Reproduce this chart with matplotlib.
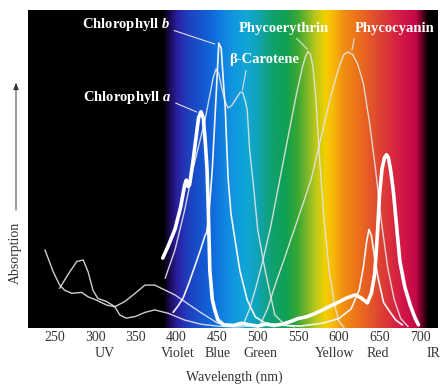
import numpy as np
import matplotlib.pyplot as plt
from matplotlib.colors import LinearSegmentedColormap

plt.rcParams['font.family'] = 'Liberation Serif'
plt.rcParams['mathtext.fontset'] = 'custom'
plt.rcParams['mathtext.rm'] = 'Liberation Serif'
plt.rcParams['mathtext.it'] = 'Liberation Serif:italic:bold'

# ── Data (wavelength in nm, relative absorption) ───────────────────────────────
chl_a_nm  = [383, 390, 398, 405, 410, 412, 414, 416, 420, 424, 427, 430, 433, 435.5, 437.5,
             439, 441, 444, 447, 451, 458, 470, 480, 490, 500, 510, 520, 530, 540, 550,
             560, 570, 580, 590, 600, 610, 620, 627, 635, 640, 644, 647, 650, 653, 656,
             658.5, 661, 664, 667, 671, 675, 681, 688, 694, 698]
chl_a_abs = [0.22, 0.26, 0.31, 0.38, 0.45, 0.465, 0.445, 0.45, 0.52, 0.60, 0.66, 0.68, 0.66, 0.58, 0.50,
             0.38, 0.18, 0.09, 0.057, 0.025, 0.01, 0.008, 0.015, 0.01, 0.006, 0.012, 0.008, 0.012, 0.02, 0.03,
             0.035, 0.045, 0.057, 0.07, 0.082, 0.095, 0.104, 0.095, 0.079, 0.11, 0.17, 0.28, 0.42, 0.50, 0.535,
             0.545, 0.535, 0.49, 0.43, 0.32, 0.21, 0.13, 0.07, 0.03, 0.01]

chl_b_nm  = [396, 402, 408, 415, 423, 430, 435, 437, 440, 444, 448.5, 452, 455, 457, 460,
             462, 463.5, 467, 470, 478, 487, 497, 509, 527, 552, 580, 600, 615, 625, 630,
             634, 637, 640, 644, 648, 655, 663, 670, 678]
chl_b_abs = [0.05, 0.07, 0.094, 0.14, 0.198, 0.25, 0.29, 0.30, 0.36, 0.50, 0.72, 0.896, 0.88, 0.80, 0.69,
             0.56, 0.47, 0.36, 0.31, 0.18, 0.088, 0.035, 0.016, 0.009, 0.006, 0.015, 0.03, 0.06, 0.12, 0.19,
             0.27, 0.31, 0.29, 0.22, 0.16, 0.08, 0.05, 0.025, 0.01]

bcar_nm  = [386, 398, 410, 420, 429, 435, 441, 445, 448.5, 452, 456, 460, 463.5, 468, 473,
            478, 481, 484, 487, 490, 494, 500, 509, 521, 534, 545]
bcar_abs = [0.157, 0.245, 0.371, 0.497, 0.591, 0.654, 0.733, 0.786, 0.814, 0.80, 0.75, 0.71, 0.692, 0.70, 0.72,
            0.74, 0.742, 0.72, 0.686, 0.56, 0.465, 0.308, 0.182, 0.041, 0.009, 0.004]

pe_nm  = [238, 248, 256, 262, 271, 283, 291, 301, 314, 324, 336, 349, 361, 373, 386,
          398, 410, 429, 450, 470, 482, 490, 498, 507, 516, 527, 538, 548, 555, 559,
          562, 565, 568, 571, 574, 577, 582, 588, 594, 600, 606]
pe_abs = [0.245, 0.177, 0.135, 0.119, 0.109, 0.112, 0.098, 0.088, 0.072, 0.067, 0.083, 0.109, 0.135, 0.135, 0.119,
          0.104, 0.083, 0.050, 0.016, 0.005, 0.01, 0.06, 0.13, 0.22, 0.32, 0.465, 0.61, 0.74, 0.82, 0.855,
          0.87, 0.86, 0.82, 0.74, 0.62, 0.50, 0.33, 0.18, 0.08, 0.02, 0.003]

pc_nm  = [256, 266, 277, 285, 291, 297, 303, 314, 324, 330, 338, 349, 361, 373, 390,
          410, 430, 450, 475, 503, 512, 522, 533, 545, 557, 566, 578, 590, 600, 606,
          611, 617, 623, 630, 638, 645, 652, 660, 668, 676, 685]
pc_abs = [0.125, 0.167, 0.209, 0.214, 0.177, 0.119, 0.093, 0.083, 0.067, 0.041, 0.031, 0.036, 0.049, 0.057, 0.046,
          0.025, 0.012, 0.006, 0.003, 0.01, 0.06, 0.14, 0.22, 0.31, 0.40, 0.47, 0.60, 0.73, 0.82, 0.86,
          0.868, 0.86, 0.83, 0.77, 0.64, 0.50, 0.34, 0.19, 0.09, 0.03, 0.005]

tick_nm     = [250, 300, 350, 400, 450, 500, 550, 600, 650, 700]
band_names  = ['UV', 'Violet', 'Blue', 'Green', 'Yellow', 'Red', 'IR']
band_nm     = [312, 402, 451, 503, 595, 648, 716]

# pigment labels: text, text position, pointer position
labels = [
    ('Chlorophyll $b$', (392, 0.953), (447, 0.893), 'right', (1.0, 0.25)),
    ('Chlorophyll $a$', (394, 0.726), (425, 0.679), 'right', (1.0, 0.25)),
    ('β-Carotene',      (508, 0.843), (481, 0.748), 'center', (0.25, 0.0)),
    ('Phycoerythrin',   (532, 0.943), (561, 0.877), 'center', (0.6, 0.0)),
    ('Phycocyanin',     (669, 0.943), (616, 0.874), 'center', (0.0, 0.0)),
]

# visible-spectrum backdrop
XMIN, XMAX = 217, 722
spectrum = [(217, '#000000'), (383, '#000000'), (392, '#1c0c58'), (400, '#2a20a0'), (415, '#1e40c0'),
            (440, '#1262d8'), (465, '#1090e2'), (485, '#10a6d8'), (500, '#10a4b8'), (515, '#10a078'),
            (535, '#10a050'), (550, '#3ca832'), (562, '#80b828'), (572, '#bcc818'), (584, '#f2d000'),
            (594, '#f8b808'), (606, '#f29012'), (622, '#ec7418'), (640, '#e45628'), (658, '#dc3838'),
            (678, '#d41848'), (696, '#c40848'), (704, '#600020'), (711, '#000000'), (722, '#000000')]
cmap = LinearSegmentedColormap.from_list(
    'spec', [((w - XMIN) / (XMAX - XMIN), c) for w, c in spectrum])

# ── Plot ────────────────────────────────────────────────────────────────────────
fig = plt.figure(figsize=(4.4, 3.86), dpi=100)
ax = fig.add_axes([28/440, 58/386, 410/440, 318/386])

ax.imshow(np.linspace(0, 1, 800).reshape(1, -1), cmap=cmap, aspect='auto',
          extent=[XMIN, XMAX, 0, 1], zorder=0)

thin = dict(color='#e4e4e4', lw=1.0, alpha=0.9, zorder=2)
ax.plot(pe_nm, pe_abs, **thin)
ax.plot(pc_nm, pc_abs, **thin)
ax.plot(bcar_nm, bcar_abs, **thin)
ax.plot(chl_b_nm, chl_b_abs, color='#f4f4f4', lw=1.2, zorder=3)
ax.plot(chl_a_nm, chl_a_abs, color='white', lw=2.6, solid_capstyle='round', zorder=4)

for text, xyt, xy, ha, rp in labels:
    ax.annotate(text, xy=xy, xytext=xyt, ha=ha, va='center', color='white',
                fontsize=10.5, fontweight='bold',
                arrowprops=dict(arrowstyle='-', color='#e0e0e0', lw=0.8,
                                relpos=rp, shrinkA=1, shrinkB=0))

ax.set_xlim(XMIN, XMAX)
ax.set_ylim(0, 1)
ax.set_xticks(tick_nm)
ax.set_xticklabels([str(t) for t in tick_nm], fontsize=10, color='#333333')
ax.set_yticks([])
ax.tick_params(axis='x', length=0, pad=2)
for s in ax.spines.values():
    s.set_visible(False)

for name, w in zip(band_names, band_nm):
    ax.text(w, -0.079, name, transform=ax.get_xaxis_transform(), ha='center', va='center',
            fontsize=10, color='#333333')

fig.text(234/440, 1 - 377/386, 'Wavelength (nm)', ha='center', va='center',
         fontsize=10, color='#333333')
fig.text(15/440, 1 - 253/386, 'Absorption', rotation=90, ha='center', va='center',
         fontsize=10, color='#333333')
fig.add_artist(plt.matplotlib.patches.FancyArrowPatch(
    (16/440, 1 - 213/386), (16/440, 1 - 80/386), transform=fig.transFigure,
    arrowstyle='-|>,head_length=4,head_width=1.6', color='#333333', lw=0.7))

plt.savefig('out.png', dpi=100)
